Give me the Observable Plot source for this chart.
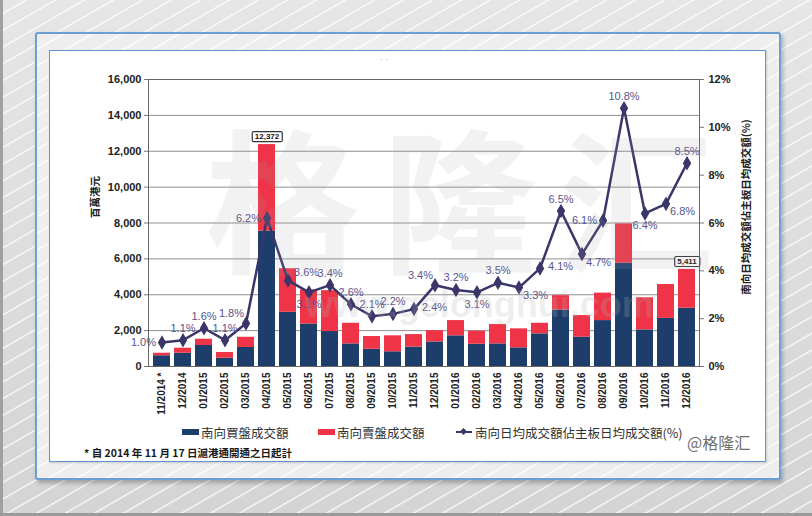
<!DOCTYPE html>
<html><head><meta charset="utf-8">
<script src="https://cdn.jsdelivr.net/npm/d3@7"></script>
<script src="https://cdn.jsdelivr.net/npm/@observablehq/plot@0.6"></script>
<style>
html,body{margin:0;padding:0;}
body{width:812px;height:516px;position:relative;overflow:hidden;
 background:
  repeating-linear-gradient(150deg, rgba(255,255,255,0) 0px, rgba(255,255,255,0) 12px, rgba(255,255,255,0.9) 13px, rgba(255,255,255,0) 14.5px),
  linear-gradient(#e6e6e6,#d4d4d4);
 font-family:"Liberation Sans", Arial, sans-serif;}
#edge{position:absolute;left:0;top:0;width:3px;height:516px;background:#a0a0a0;}
#bottomedge{position:absolute;left:0;top:513px;width:812px;height:3px;background:#9a9a9a;}
#outer{position:absolute;left:35px;top:32px;width:742px;height:444px;border:2px solid #6c9fd8;border-radius:3px;
 box-shadow:2px 3px 4px rgba(0,0,0,0.25);
 background:
  repeating-linear-gradient(150deg, rgba(255,255,255,0) 0px, rgba(255,255,255,0) 12px, rgba(255,255,255,0.95) 13px, rgba(255,255,255,0) 14.5px),
  #eeeeee;}
#inner{position:absolute;left:49px;top:50px;width:715px;height:410px;border:1.5px solid #5f93d3;background:#fff;box-shadow:1px 1px 2px rgba(0,0,0,0.15);}
#chart{position:absolute;left:0;top:0;}
.txt{position:absolute;white-space:nowrap;}
.cjk{font-family:"Noto Sans CJK TC","Noto Sans CJK SC",sans-serif;}
.vt{position:absolute;white-space:nowrap;transform:translate(-50%,-50%) rotate(-90deg);}
#wm{position:absolute;left:205px;top:116px;font-family:"Noto Sans CJK SC",sans-serif;font-weight:700;font-size:155px;letter-spacing:22px;color:rgba(165,165,165,0.14);pointer-events:none;line-height:1;}
#wm2{position:absolute;left:305px;top:284px;font-family:"Liberation Sans",Arial,sans-serif;font-weight:bold;font-size:36px;color:rgba(180,180,180,0.22);pointer-events:none;}
</style>
</head>
<body>
<div id="edge"></div>
<div id="bottomedge"></div>
<div id="outer"></div>
<div id="inner"></div>
<div class="txt" style="left:380px;top:54px;font-size:9px;color:#aaa;">· ·</div>
<div id="chart"></div>
<div class="vt cjk" style="left:94px;top:197px;font-size:10.5px;font-weight:bold;color:#222;">百萬港元</div>
<div class="vt cjk" style="left:745px;top:207px;font-size:10.5px;font-weight:bold;color:#222;">南向日均成交額佔主板日均成交額(%)</div>
<div id="legend"></div>
<div class="txt cjk" style="left:84px;top:445px;font-size:10.5px;font-weight:bold;color:#1a1a1a;">* 自 2014 年 11 月 17 日滬港通開通之日起計</div>
<div class="txt" style="left:687px;top:430px;font-size:16px;color:#707070;font-family:'Noto Sans CJK SC',sans-serif;">@格隆汇</div>
<div id="wm">格隆汇</div>
<div id="wm2">www.gelonghui.com</div>
<script>
// ---- data ----
const months = ["11/2014 *","12/2014","01/2015","02/2015","03/2015","04/2015","05/2015","06/2015","07/2015","08/2015","09/2015","10/2015","11/2015","12/2015","01/2016","02/2016","03/2016","04/2016","05/2016","06/2016","07/2016","08/2016","09/2016","10/2016","11/2016","12/2016"];
const buyValues  = [600, 740, 1170, 460, 1060, 7550, 3020, 2370, 1950, 1260, 960, 820, 1080, 1370, 1710, 1240, 1260, 1040, 1820, 3150, 1630, 2560, 5760, 2040, 2680, 3250];
const sellValues = [140, 280, 350, 320, 570, 4822, 2430, 1900, 2280, 1150, 710, 890, 700, 630, 850, 730, 1080, 1060, 590, 800, 1210, 1530, 2190, 1790, 1890, 2161];
const sharePct   = [1.0, 1.1, 1.6, 1.1, 1.8, 6.2, 3.6, 3.1, 3.4, 2.6, 2.1, 2.2, 2.4, 3.4, 3.2, 3.1, 3.5, 3.3, 4.1, 6.5, 4.7, 6.1, 10.8, 6.4, 6.8, 8.5];
const labelSide  = ["l","t","t","t","tl","l","tr","b","t","t","t","t","r","tl","t","b","t","br","r","t","br","l","t","b","br","t"];
const calloutMonths = ["04/2015","12/2016"];
const seriesNames = ["南向買盤成交額","南向賣盤成交額","南向日均成交額佔主板日均成交額(%)"];
const leftTicks = [0,2000,4000,6000,8000,10000,12000,14000,16000];
const rightTicks = [0,2,4,6,8,10,12];

// ---- derived tables ----
const colors = {buy:"#1d3e6b", sell:"#ee3446", line:"#3b366a", label:"#57548c"};
const k = 16000/12;
const stackData = months.flatMap((m,i)=>[
  {month:m, type:"buy", v:buyValues[i]},
  {month:m, type:"sell", v:sellValues[i]}
]);
const lineData = months.map((m,i)=>({month:m, pct:sharePct[i], side:labelSide[i]}));
const fmt = d3.format(",");
const calloutData = calloutMonths.map(m=>{const i=months.indexOf(m); return {month:m, total:buyValues[i]+sellValues[i]};});
const calloutTexts = new Set(calloutData.map(d=>fmt(d.total)));

const sides = {
  t:{dx:0,dy:-12,anchor:"middle"},
  b:{dx:0,dy:12,anchor:"middle"},
  l:{dx:-6,dy:0,anchor:"end"},
  r:{dx:8,dy:-2,anchor:"start"},
  tl:{dx:-2,dy:-10,anchor:"end"},
  tr:{dx:6,dy:-8,anchor:"start"},
  br:{dx:4,dy:8,anchor:"start"}
};
const labelMarks = Object.entries(sides).map(([key,s]) =>
  Plot.text(lineData.filter(d=>d.side===key), {
    x:"month", y:d=>d.pct*k, text:d=>d.pct.toFixed(1)+"%",
    dx:s.dx, dy:s.dy, textAnchor:s.anchor, fill:colors.label, fontSize:11
  })
);

const svg = Plot.plot({
  width:812, height:430,
  marginLeft:148, marginRight:113, marginTop:79, marginBottom:64,
  style:{background:"transparent", fontFamily:"'Liberation Sans', Arial, sans-serif", fontSize:"10px", color:"#222"},
  x:{domain:months, padding:0.2, label:null},
  y:{domain:[0,16000], label:null},
  color:{domain:["buy","sell"], range:[colors.buy, colors.sell]},
  marks:[
    Plot.gridY(leftTicks, {stroke:"#8f8f8f", strokeOpacity:1}),
    Plot.barY(stackData, {x:"month", y:"v", fill:"type"}),
    Plot.ruleY([0], {stroke:"#777"}),
    Plot.frame({stroke:"#666"}),
    Plot.axisY(leftTicks, {anchor:"left", tickFormat:fmt, tickSize:4, tickPadding:3, fontSize:11, fontWeight:"bold", label:null, stroke:"#777"}),
    Plot.axisY(rightTicks.map(p=>p*k), {anchor:"right", tickFormat:d=>Math.round(d/k)+"%", tickSize:4, tickPadding:5, fontSize:11, fontWeight:"bold", label:null, stroke:"#777"}),
    Plot.axisX({tickRotate:-90, tickSize:0, tickPadding:6, fontSize:10, fontWeight:"bold", label:null}),
    Plot.line(lineData, {x:"month", y:d=>d.pct*k, stroke:colors.line, strokeWidth:2.5}),
    Plot.dot(lineData, {x:"month", y:d=>d.pct*k, symbol:"diamond", r:3.5, fill:colors.line, stroke:colors.line}),
    ...labelMarks,
    Plot.text(calloutData, {x:"month", y:"total", text:d=>fmt(d.total), dy:-8, fontSize:8, fontWeight:"bold", fill:"#111"})
  ]
});
document.getElementById("chart").append(svg);

// boxes around callout labels
d3.select(svg).selectAll('text').filter(function(){ return calloutTexts.has(this.textContent) && this.children.length===0; }).each(function(){
  const b = this.getBBox();
  const r = document.createElementNS("http://www.w3.org/2000/svg","rect");
  r.setAttribute("x", b.x-2.5); r.setAttribute("y", b.y-0.5);
  r.setAttribute("width", b.width+5); r.setAttribute("height", b.height+1);
  r.setAttribute("fill","#fff"); r.setAttribute("stroke","#333"); r.setAttribute("stroke-width","1.2"); r.setAttribute("rx","1.5");
  const t = this.getAttribute("transform"); if (t) r.setAttribute("transform", t);
  this.parentNode.insertBefore(r, this);
});

// legend
const legend = document.getElementById("legend");
const legendItems = [
  {name:seriesNames[0], kind:"bar", color:colors.buy, x:182},
  {name:seriesNames[1], kind:"bar", color:colors.sell, x:318},
  {name:seriesNames[2], kind:"line", color:colors.line, x:456}
];
legendItems.forEach(it=>{
  const sw = document.createElement("div");
  sw.className="txt";
  if (it.kind==="bar") {
    sw.style.cssText=`left:${it.x}px;top:429px;width:17px;height:6px;background:${it.color};`;
  } else {
    sw.style.cssText=`left:${it.x}px;top:431px;width:16px;height:2px;background:${it.color};`;
    const dm = document.createElement("div");
    dm.className="txt";
    dm.style.cssText=`left:${it.x+5}px;top:429px;width:5px;height:5px;background:${it.color};transform:rotate(45deg);`;
    legend.append(dm);
  }
  legend.append(sw);
  const tx = document.createElement("div");
  tx.className="txt cjk";
  tx.style.cssText=`left:${it.x+19}px;top:423px;font-size:12.5px;color:#333;`;
  tx.textContent = it.name;
  legend.append(tx);
});
</script>
</body></html>
